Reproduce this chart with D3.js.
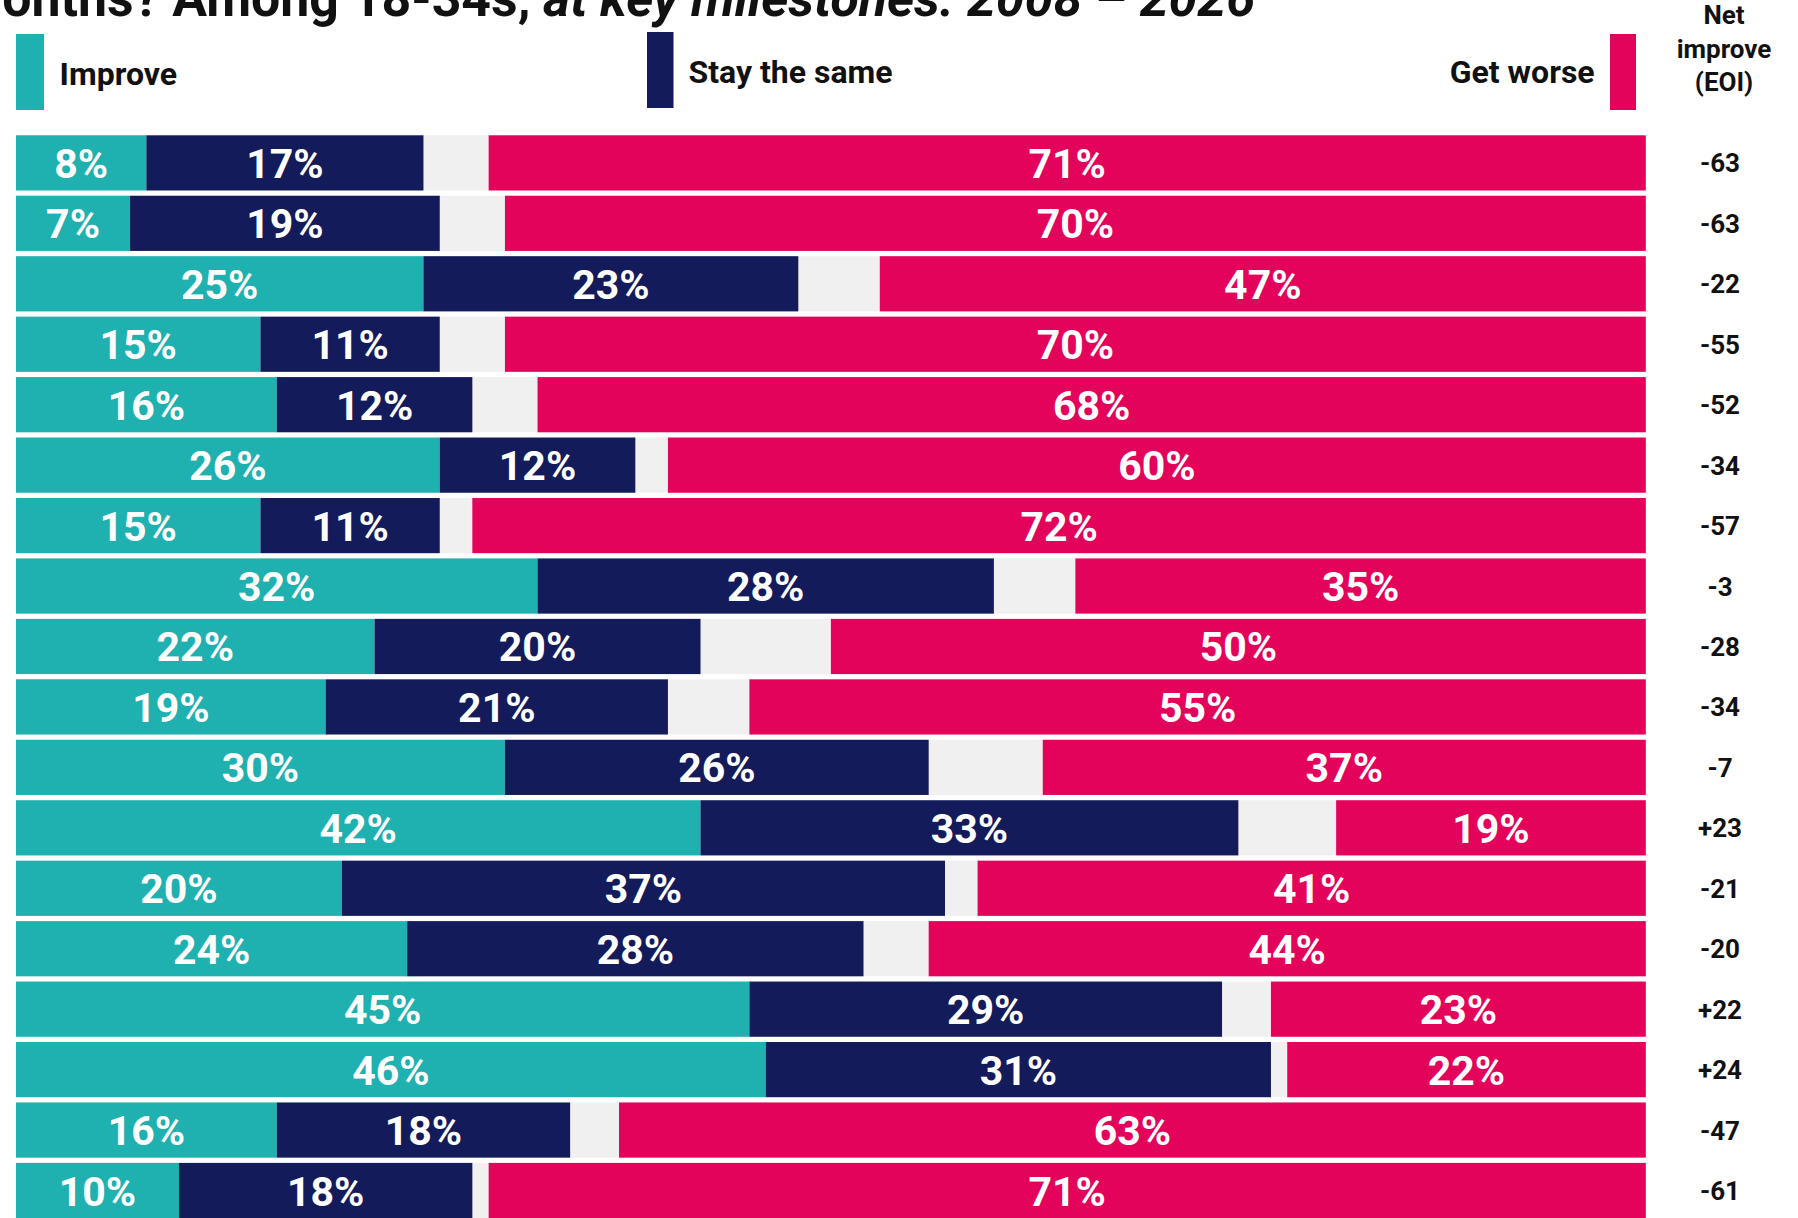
<!DOCTYPE html>
<html><head><meta charset="utf-8">
<script src="https://cdn.jsdelivr.net/npm/d3@7"></script>
<style>html,body{margin:0;padding:0;background:#fff;overflow:hidden}</style>
</head><body>
<svg id="chart" width="1798" height="1218"></svg>
<script>
// ---- data ----
const rowIds = ["r1","r2","r3","r4","r5","r6","r7","r8","r9","r10","r11","r12","r13","r14","r15","r16","r17","r18"];
const improve  = [8, 7, 25, 15, 16, 26, 15, 32, 22, 19, 30, 42, 20, 24, 45, 46, 16, 10];
const staySame = [17, 19, 23, 11, 12, 12, 11, 28, 20, 21, 26, 33, 37, 28, 29, 31, 18, 18];
const getWorse = [71, 70, 47, 70, 68, 60, 72, 35, 50, 55, 37, 19, 41, 44, 23, 22, 63, 71];
const netImprove = [-63, -63, -22, -55, -52, -34, -57, -3, -28, -34, -7, 23, -21, -20, 22, 24, -47, -61];
const seriesNames = ["Improve", "Stay the same", "Get worse"];
const netHeader = ["Net", "improve", "(EOI)"];
const titleParts = ["months? Among 18-34s, ", "at key milestones: 2008 \u2013 2026"];

// ---- styles ----
const C_TEAL = "#1fb0b0", C_NAVY = "#131b5a", C_PINK = "#e4035a", C_GRAY = "#f0f0f0";
const FONT = "Roboto, 'Liberation Sans', sans-serif";

const svg = d3.select("#chart");

const x = d3.scaleLinear().domain([0, 100]).range([16, 1645.8]);
const y = d3.scaleBand().domain(rowIds).range([135.3, 1218.1]).paddingInner(0.087).paddingOuter(0).align(0);

const rows = rowIds.map((id, i) => ({
  id, imp: improve[i], same: staySame[i], worse: getWorse[i], net: netImprove[i]
}));

// ---- title (cropped at top) ----
const title = svg.append("text")
  .attr("font-family", FONT).attr("font-weight", 700).attr("fill", "#111")
  .attr("text-anchor", "end").attr("x", 1255).attr("y", 16);
title.append("tspan").text(titleParts[0]);
title.append("tspan").attr("font-style", "italic").text(titleParts[1]);
// size so that "onths? ..." spans from x≈2 to 1255
(function fit(){
  const base = 50;
  title.attr("font-size", base);
  const full = title.node().getComputedTextLength();
  const tmp = svg.append("text").attr("font-family", FONT).attr("font-weight", 700).attr("font-size", base).text("m");
  const mW = tmp.node().getComputedTextLength(); tmp.remove();
  const visible = full - mW;
  const fs = base * (1253 / visible);
  title.attr("font-size", fs);
})();

// ---- legend ----
const legend = svg.append("g").attr("font-family", FONT).attr("font-weight", 700).attr("font-size", 32).attr("fill", "#111");
legend.append("rect").attr("x", 16).attr("y", 34).attr("width", 28).attr("height", 76).attr("fill", C_TEAL);
legend.append("text").attr("x", 59.6).attr("y", 85).text(seriesNames[0]);
legend.append("rect").attr("x", 647).attr("y", 32).attr("width", 26.5).attr("height", 76).attr("fill", C_NAVY);
legend.append("text").attr("x", 688.5).attr("y", 83.3).text(seriesNames[1]);
legend.append("text").attr("x", 1594.6).attr("y", 83.3).attr("text-anchor", "end").text(seriesNames[2]);
legend.append("rect").attr("x", 1610).attr("y", 34).attr("width", 26).attr("height", 76).attr("fill", C_PINK);

svg.append("g").attr("font-family", FONT).attr("font-weight", 700).attr("font-size", 26).attr("fill", "#111")
  .attr("text-anchor", "middle")
  .selectAll("text").data(netHeader).join("text")
  .attr("x", 1724).attr("y", (d, i) => 24 + i * 33.6).text(d => d);

// ---- bars ----
const g = svg.append("g");
const rowG = g.selectAll("g.row").data(rows).join("g").attr("class", "row");

rowG.append("rect").attr("x", x(0)).attr("width", x(100) - x(0))
  .attr("y", d => y(d.id)).attr("height", y.bandwidth()).attr("fill", C_GRAY);

const segs = d => [
  {start: 0, end: d.imp, v: d.imp, c: C_TEAL, id: d.id},
  {start: d.imp, end: d.imp + d.same, v: d.same, c: C_NAVY, id: d.id},
  {start: 100 - d.worse, end: 100, v: d.worse, c: C_PINK, id: d.id}
];

rowG.selectAll("rect.seg").data(segs).join("rect").attr("class", "seg")
  .attr("x", s => x(s.start)).attr("width", s => x(s.end) - x(s.start))
  .attr("y", s => y(s.id)).attr("height", y.bandwidth()).attr("fill", s => s.c);

rowG.selectAll("text.lbl").data(segs).join("text").attr("class", "lbl")
  .attr("x", s => (x(s.start) + x(s.end)) / 2)
  .attr("y", s => y(s.id) + y.bandwidth() / 2 + 15)
  .attr("text-anchor", "middle").attr("fill", "#fff")
  .attr("font-family", FONT).attr("font-weight", 700).attr("font-size", 41)
  .text(s => s.v + "%");

const fmtNet = v => (v > 0 ? "+" : "-") + Math.abs(v);
rowG.append("text")
  .attr("x", 1720).attr("y", d => y(d.id) + y.bandwidth() / 2 + 9.5)
  .attr("text-anchor", "middle").attr("fill", "#111")
  .attr("font-family", FONT).attr("font-weight", 700).attr("font-size", 26)
  .text(d => fmtNet(d.net));
</script>
</body></html>
